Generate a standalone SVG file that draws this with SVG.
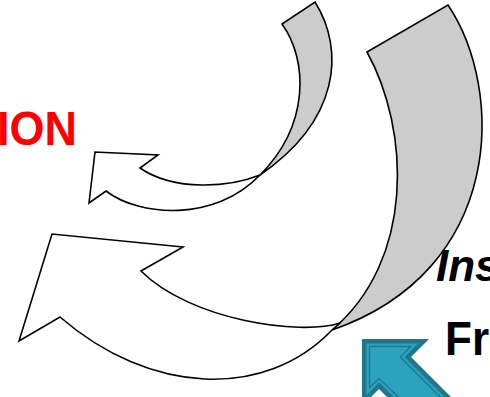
<svg xmlns="http://www.w3.org/2000/svg" width="490" height="397" viewBox="0 0 490 397">
  <style>
    .back { fill: #cccccc; stroke: #000; stroke-width: 1.6; stroke-linejoin: miter; }
    .front { fill: #ffffff; stroke: #000; stroke-width: 1.6; stroke-linejoin: miter; }
    .lbl { font-family: "Liberation Sans", Arial, sans-serif; font-weight: bold; }
    .teal-dark { fill: #1e778c; }
    .teal-light { fill: #2ca2bd; }
  </style>
  <rect width="490" height="397" fill="#ffffff"/>
  <g id="label-ion">
    <text class="lbl" x="-3" y="145" font-size="49" fill="#ff0000" textLength="80" lengthAdjust="spacingAndGlyphs">ION</text>
  </g>
  <g id="arrow-small">
    <path class="back" d="M282,24 L315,2 C345,50 340,120 260,175 C310,125 308,60 282,24 Z"/>
    <path class="front" d="M260,175 C230,187 175,192 140,168 L158,155 L95,152 L89,203 L106,191 C140,217 215,222 260,175 Z"/>
  </g>
  <g id="arrow-large">
    <path class="back" d="M367,52 L448,5 C505,90 505,270 332,330 C415,260 410,130 367,52 Z"/>
    <path class="front" d="M340,323 C300,336 190,320 141,271 L183,247 L52,234 L19,341 L60,317 C150,395 265,400 332,330 Z"/>
  </g>
  <g id="label-ins">
    <text class="lbl" x="436" y="281" font-size="44" font-style="italic" fill="#000">Ins</text>
  </g>
  <g id="label-fr">
    <text class="lbl" x="445" y="355" font-size="49" fill="#000" textLength="44" lengthAdjust="spacingAndGlyphs">Fr</text>
  </g>
  <g id="teal-arrow">
    <polygon class="teal-dark" points="362,339 429,339 411,357 500,446 480,490 379,389 362,406"/>
    <polygon class="teal-light" points="366.5,343.5 418.1,343.5 404.6,357 505,457.4 480,480 379,382.6 366.5,395.1"/>
    <polygon class="teal-light" points="369.5,346.5 410.9,346.5 400.3,357 505,461.7 480,476 379,378.3 369.5,387.8" stroke="#1e778c" stroke-width="1.3"/>
  </g>
</svg>
